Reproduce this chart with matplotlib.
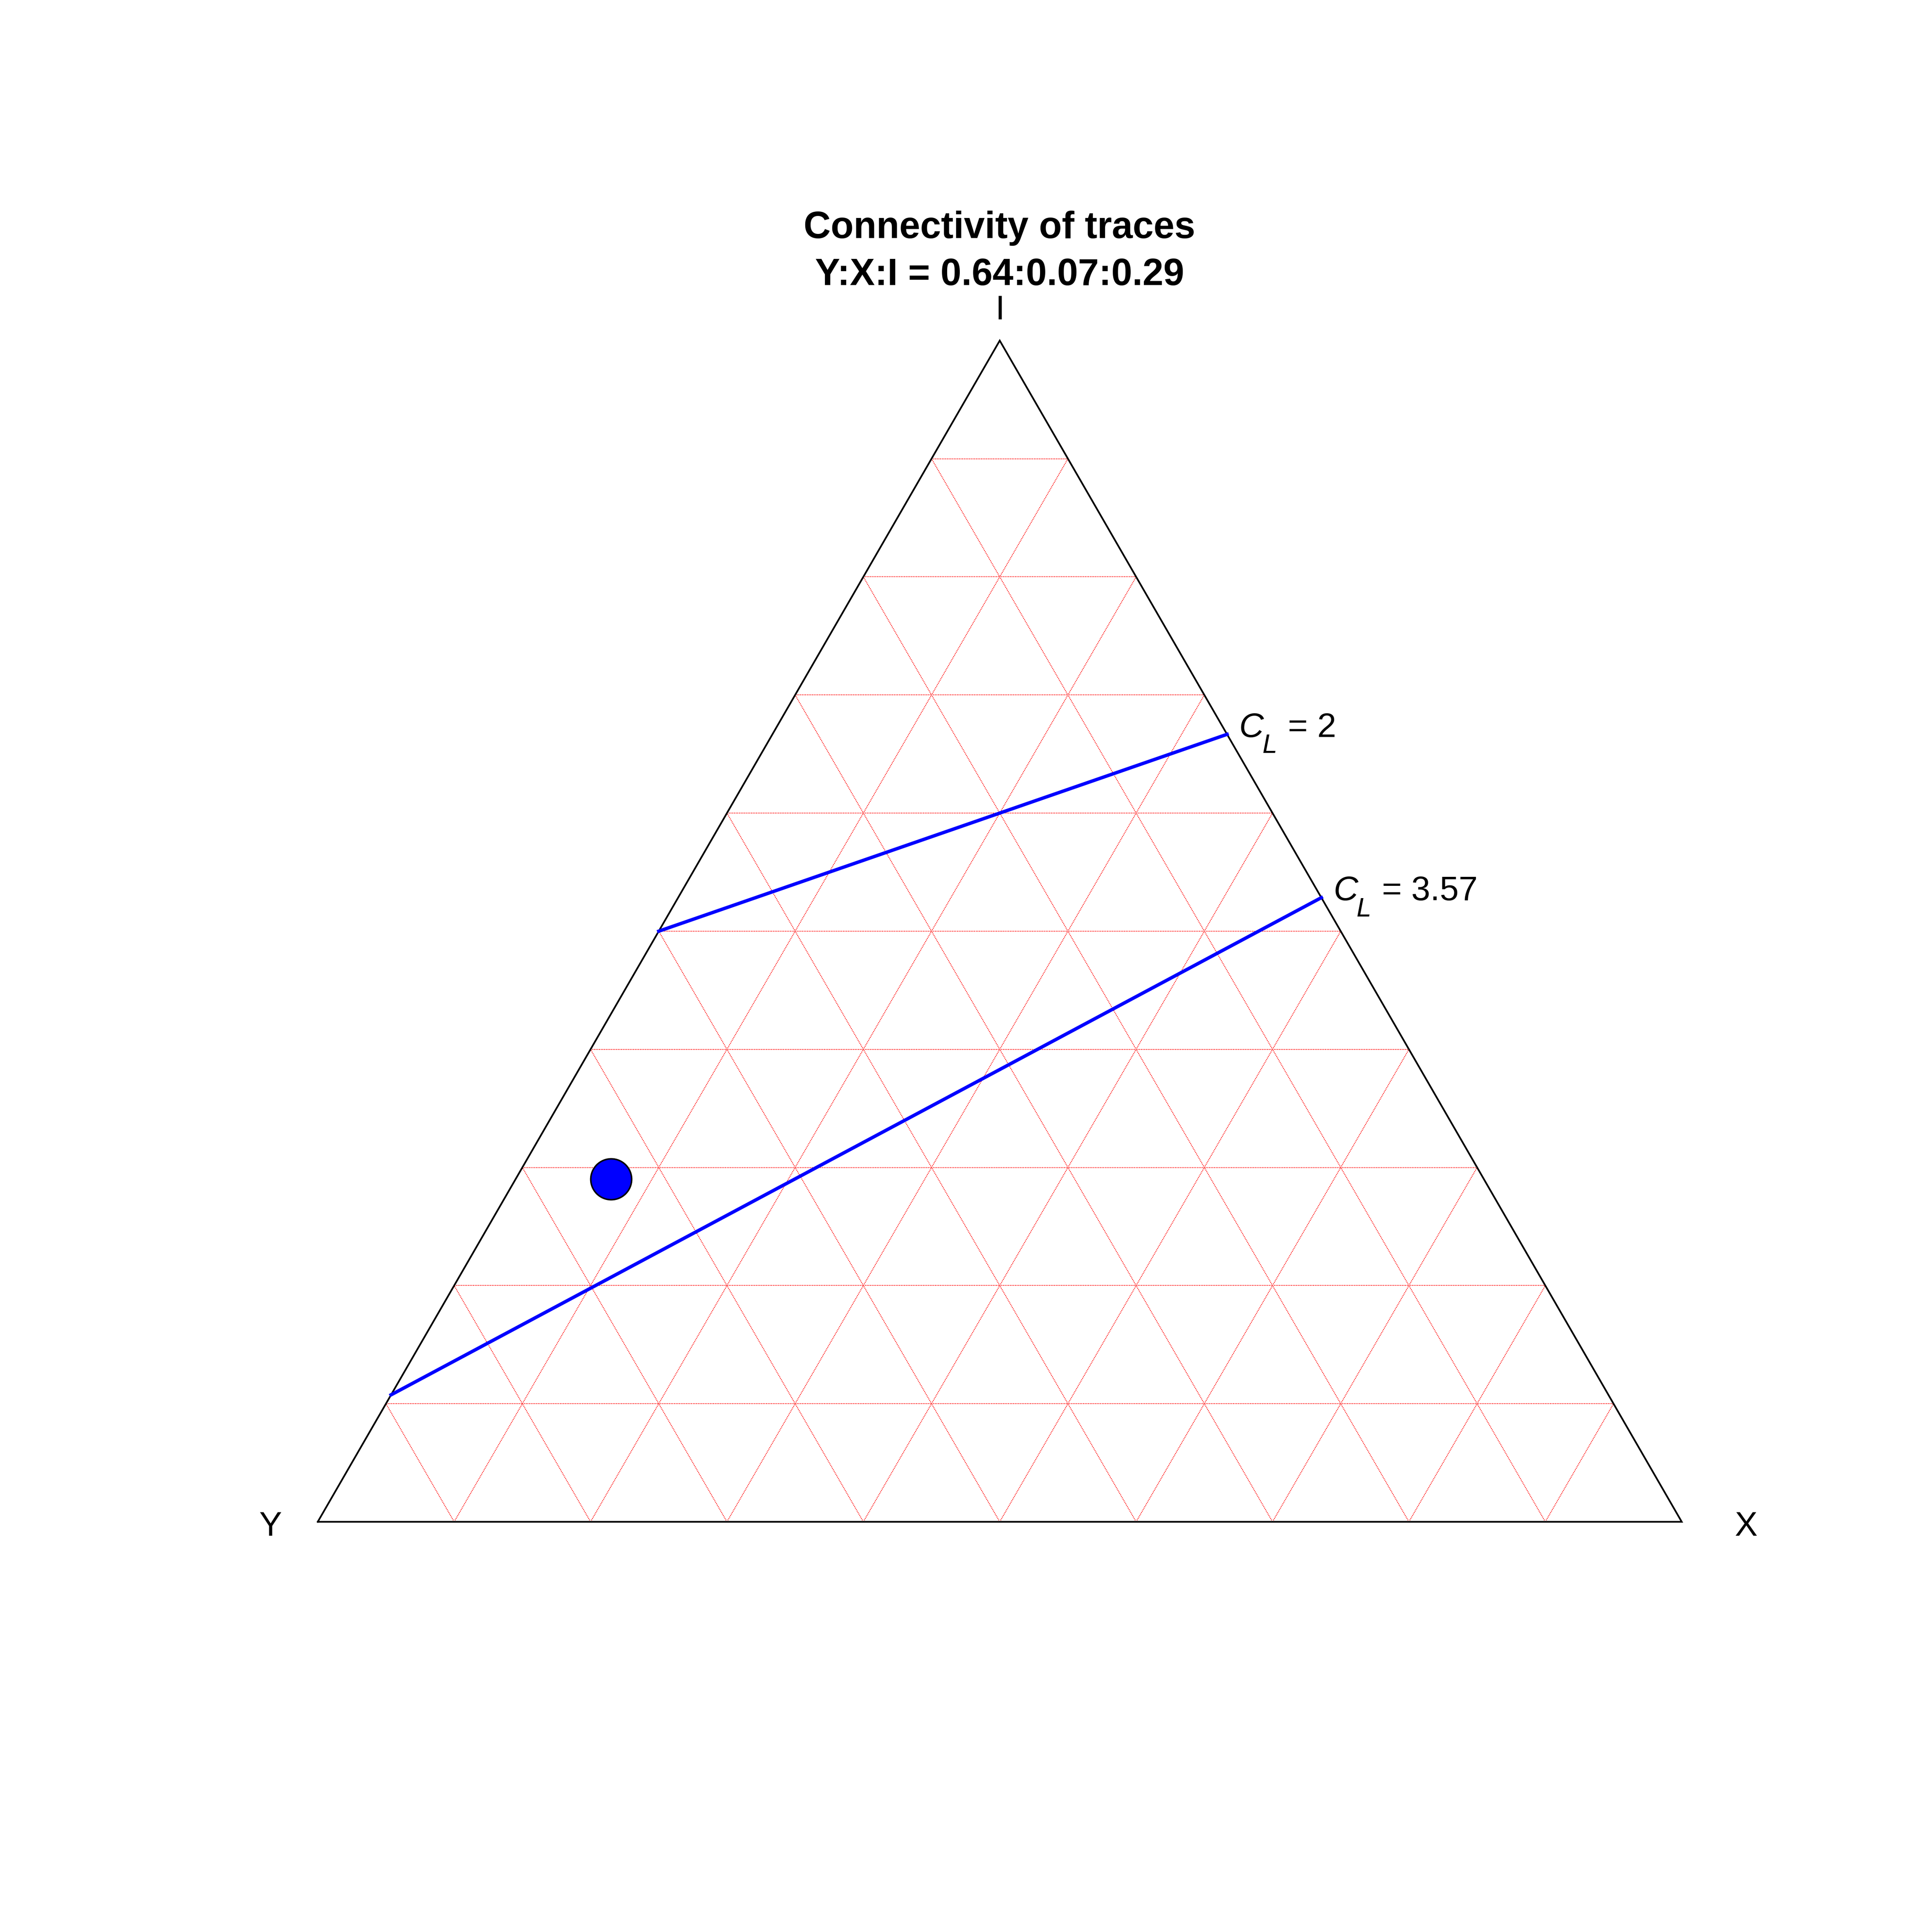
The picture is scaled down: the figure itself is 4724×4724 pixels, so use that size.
import numpy as np
import matplotlib
matplotlib.use('Agg')
import matplotlib.pyplot as plt

plt.rcParams['font.family'] = ['Liberation Sans', 'DejaVu Sans']

# proportions of node types, order Y:X:I
point_yxi = [0.64, 0.07, 0.29]
# connectivity iso-lines
cl_values = [2, 3.57]
cl_labels = ['2', '3.57']
grid_steps = [0.1, 0.2, 0.3, 0.4, 0.5, 0.6, 0.7, 0.8, 0.9]
vertex_names = ['Y', 'X', 'I']

SQ3 = np.sqrt(3) / 2
PT = 300 / 72.0  # px per point


def tern(y, x, i):
    # Y at left, X at right, I on top
    return x + i / 2.0, i * SQ3


fig = plt.figure(figsize=(4724 / 300, 4724 / 300), dpi=300)
ax = fig.add_axes([0, 0, 1, 1])
unit = 3335.0
ax.set_xlim(-777 / unit, (4724 - 777) / unit)
ax.set_ylim(-1003 / unit, (4724 - 1003) / unit)
ax.axis('off')

# grid, dotted red
gkw = dict(color='red', lw=0.5, ls=(0, (1, 1)), zorder=1)
for c in grid_steps:
    # I = c
    p1 = tern(1 - c, 0, c)
    p2 = tern(0, 1 - c, c)
    ax.plot([p1[0], p2[0]], [p1[1], p2[1]], **gkw)
    # X = c
    p1 = tern(1 - c, c, 0)
    p2 = tern(0, c, 1 - c)
    ax.plot([p1[0], p2[0]], [p1[1], p2[1]], **gkw)
    # Y = c
    p1 = tern(c, 1 - c, 0)
    p2 = tern(c, 0, 1 - c)
    ax.plot([p1[0], p2[0]], [p1[1], p2[1]], **gkw)

# outline
corners = [tern(1, 0, 0), tern(0, 1, 0), tern(0, 0, 1), tern(1, 0, 0)]
ax.plot([p[0] for p in corners], [p[1] for p in corners], color='black',
        lw=1.0, zorder=2, solid_joinstyle='miter')

# C_L = 4(Y+X)/(I+Y) lines
for c, lab in zip(cl_values, cl_labels):
    pl = tern(c / 4.0, 0, 1 - c / 4.0)
    pr = tern(0, c / (4.0 + c), 4.0 / (4.0 + c))
    ax.plot([pl[0], pr[0]], [pl[1], pr[1]], color='#0000ff', lw=2.0, zorder=3)
    # italic C with italic subscript L, then "= value"
    ax.annotate('C', xy=pr, xytext=(7, -1.5), textcoords='offset points',
                ha='left', va='baseline', fontsize=20, fontstyle='italic')
    ax.annotate('L', xy=pr, xytext=(20.7, -11.0), textcoords='offset points',
                ha='left', va='baseline', fontsize=15.6, fontstyle='italic')
    ax.annotate('= ' + lab, xy=pr, xytext=(35.6, -1.5),
                textcoords='offset points', ha='left', va='baseline',
                fontsize=20)

# data point
px, py = tern(*point_yxi)
ax.plot([px], [py], 'o', ms=24, mfc='#0000ff', mec='black', mew=0.9, zorder=4)

# vertex labels
ax.annotate(vertex_names[2], xy=tern(0, 0, 1), xytext=(0, 52 / PT),
            textcoords='offset points', ha='center', va='baseline', fontsize=20)
ax.annotate(vertex_names[0], xy=tern(1, 0, 0), xytext=(-116 / PT, -34 / PT),
            textcoords='offset points', ha='center', va='baseline', fontsize=20)
ax.annotate(vertex_names[1], xy=tern(0, 1, 0), xytext=(157 / PT, -34 / PT),
            textcoords='offset points', ha='center', va='baseline', fontsize=20)

title2 = 'Y:X:I = %.2f:%.2f:%.2f' % tuple(point_yxi)
fig.text(2444 / 4724, 1 - 582 / 4724, 'Connectivity of traces', ha='center',
         va='baseline', fontsize=22, fontweight='bold')
fig.text(2444 / 4724, 1 - 697 / 4724, title2, ha='center',
         va='baseline', fontsize=22, fontweight='bold')

fig.savefig('out.png', dpi=300, facecolor='white')
